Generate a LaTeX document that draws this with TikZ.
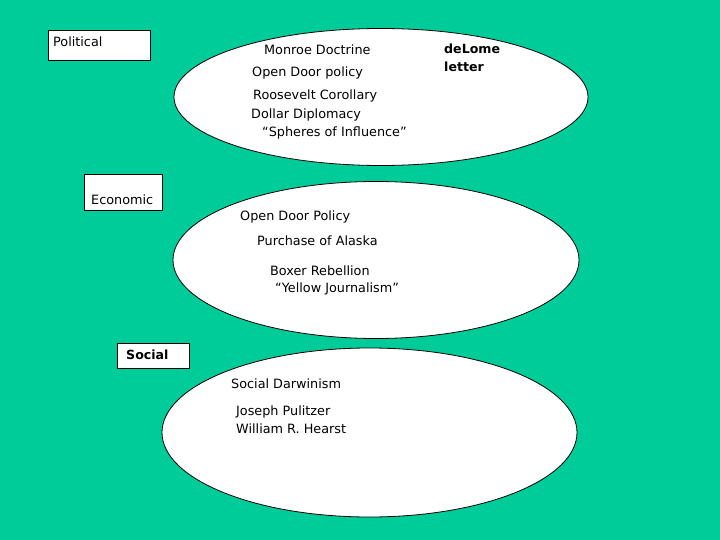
\documentclass[tikz,border=0pt]{standalone}
\usepackage{fontspec}
\setmainfont{DejaVu Sans}
\usetikzlibrary{shapes.geometric}
\definecolor{bgteal}{RGB}{0,204,153}
\begin{document}
\begin{tikzpicture}[x=1pt,y=-1pt,
  oval/.style={ellipse,draw=black,fill=white,line width=0.8pt,inner sep=0pt},
  lbox/.style={rectangle,draw=black,fill=white,line width=0.8pt,inner sep=0pt},
  txt/.style={anchor=west,inner sep=0pt,font=\fontsize{12.8}{14}\selectfont},
  btxt/.style={anchor=west,inner sep=0pt,font=\fontsize{12.6}{14}\selectfont\bfseries}]
\fill[bgteal] (0,0) rectangle (720,540);
\useasboundingbox (0,0) rectangle (720,540);
% ellipses
\node[oval,minimum width=414pt,minimum height=137pt] (e1) at (381,97) {};
\node[oval,minimum width=406pt,minimum height=157pt] (e2) at (376,260) {};
\node[oval,minimum width=415pt,minimum height=169pt] (e3) at (369.5,432.5) {};
% label boxes
\node[lbox,minimum width=102pt,minimum height=30pt] (b1) at (99,45) {};
\node[lbox,minimum width=78pt,minimum height=36pt] (b2) at (123,192) {};
\node[lbox,minimum width=72pt,minimum height=25pt] (b3) at (153,355.5) {};
\node[txt] (t1) at (53,42) {Political};
\node[txt] (t2) at (91,200) {Economic};
\node[btxt] (t3) at (126,355) {Social};
% ellipse 1 texts
\node[txt] (p1) at (264,50) {Monroe Doctrine};
\node[txt] (p2) at (252,73) {Open Door policy};
\node[txt] (p3) at (253,96) {Roosevelt Corollary};
\node[txt] (p4) at (251,115) {Dollar Diplomacy};
\node[txt] (p5) at (262,133) {“Spheres of Influence”};
\node[btxt] (d1) at (444,49) {deLome};
\node[btxt] (d2) at (444,67) {letter};
% ellipse 2 texts
\node[txt] (c1) at (240,217) {Open Door Policy};
\node[txt] (c2) at (257,241) {Purchase of Alaska};
\node[txt] (c3) at (270,271) {Boxer Rebellion};
\node[txt] (c4) at (275,289) {“Yellow Journalism”};
% ellipse 3 texts
\node[txt] (s1) at (231,384) {Social Darwinism};
\node[txt] (s2) at (236,412) {Joseph Pulitzer};
\node[txt] (s3) at (236,429) {William R. Hearst};
\end{tikzpicture}
\end{document}
